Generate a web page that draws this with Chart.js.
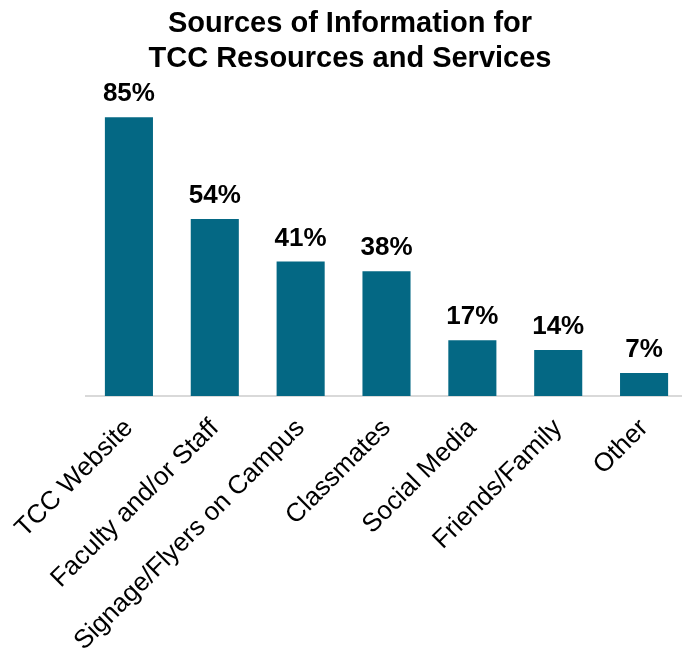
<!DOCTYPE html>
<html>
<head>
<meta charset="utf-8">
<script src="https://cdn.jsdelivr.net/npm/chart.js@4"></script>
<style>
    html, body { margin: 0; padding: 0; background: #fff; overflow: hidden; }
    #wrap { width: 688px; height: 649px; position: relative; }
</style>
</head>
<body>
<div id="wrap"><canvas id="sourcesChart"></canvas></div>
<script>
// Chart data
const categories = ['TCC Website', 'Faculty and/or Staff', 'Signage/Flyers on Campus', 'Classmates', 'Social Media', 'Friends/Family', 'Other'];
const percentValues = [85, 54, 41, 38, 17, 14, 7];
const titleLines = ['Sources of Information for', 'TCC Resources and Services'];

const barColor = '#046884';
const fontFamily = '"Liberation Sans", Arial, sans-serif';

// Title drawn over the slide centre, not the plot area
const titlePlugin = {
    id: 'slideTitle',
    afterDraw(chart) {
        const ctx = chart.ctx;
        ctx.save();
        ctx.fillStyle = '#000';
        ctx.font = 'bold 29px ' + fontFamily;
        ctx.textAlign = 'center';
        ctx.textBaseline = 'middle';
        ctx.fillText(titleLines[0], 350, 24);
        ctx.fillText(titleLines[1], 350, 59);
        ctx.restore();
    }
};

// Percent labels above each bar
const valueLabels = {
    id: 'valueLabels',
    afterDatasetsDraw(chart) {
        const ctx = chart.ctx;
        const meta = chart.getDatasetMeta(0);
        ctx.save();
        ctx.fillStyle = '#000';
        ctx.font = 'bold 26px ' + fontFamily;
        ctx.textAlign = 'center';
        ctx.textBaseline = 'alphabetic';
        meta.data.forEach((bar, i) => {
            ctx.fillText(percentValues[i] + '%', bar.x, bar.y - 16);
        });
        ctx.restore();
    }
};

const ctx = document.getElementById('sourcesChart').getContext('2d');
new Chart(ctx, {
    type: 'bar',
    data: {
        labels: categories,
        datasets: [{
            data: percentValues,
            backgroundColor: barColor,
            borderWidth: 0,
            barPercentage: 0.56,
            categoryPercentage: 1
        }]
    },
    options: {
        responsive: true,
        maintainAspectRatio: false,
        animation: false,
        layout: {
            padding: { left: 86, right: 1, top: 68, bottom: 0 }
        },
        plugins: {
            legend: { display: false },
            title: { display: false },
            tooltip: { enabled: false }
        },
        scales: {
            y: {
                display: false,
                min: 0,
                max: 100
            },
            x: {
                grid: { display: false, drawTicks: false },
                border: { display: true, color: '#d9d9d9', width: 2 },
                ticks: {
                    color: '#000',
                    font: { family: fontFamily, size: 26 },
                    minRotation: 45,
                    maxRotation: 45,
                    autoSkip: false,
                    padding: 17,
                    labelOffset: 0
                },
                afterFit(scale) {
                    // fixed axis band; labels may run off the bottom like the original
                    scale.height = 253;
                    scale.paddingLeft = 0;
                    scale.paddingRight = 0;
                }
            }
        }
    },
    plugins: [titlePlugin, valueLabels]
});
</script>
</body>
</html>
